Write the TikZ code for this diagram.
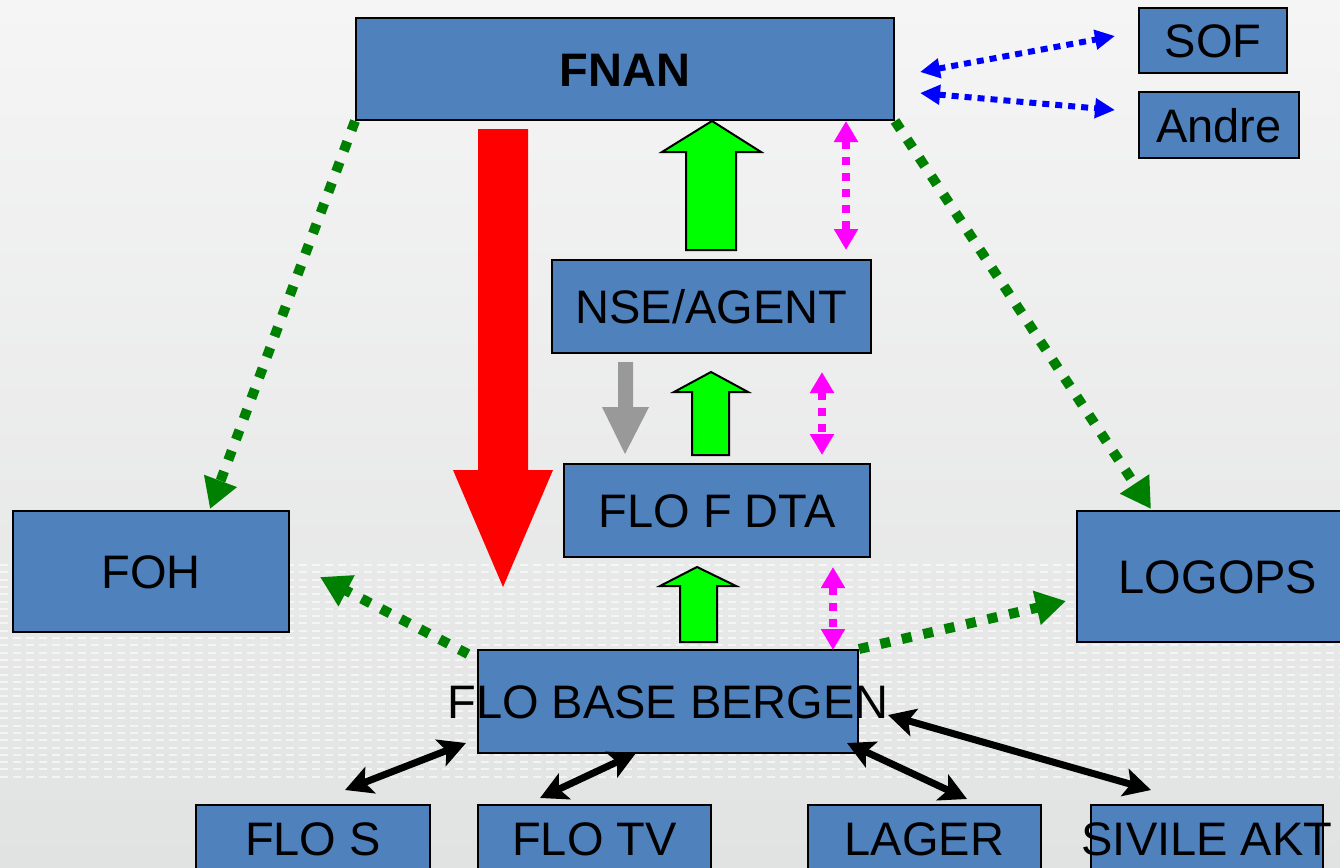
\documentclass[tikz,border=0pt]{standalone}
\usepackage{fontspec}
\setmainfont{Liberation Sans}
\usetikzlibrary{arrows.meta}
\definecolor{boxblue}{HTML}{4F81BD}
\definecolor{bgtop}{HTML}{F5F5F5}
\definecolor{bgbot}{HTML}{E1E2E2}
\definecolor{brightgreen}{HTML}{00FF00}
\definecolor{darkgreen}{HTML}{008000}
\definecolor{magentaline}{HTML}{FF00FF}
\definecolor{blueline}{HTML}{0000FF}
\definecolor{redarrow}{HTML}{FF0000}
\definecolor{grayarrow}{HTML}{999999}
\begin{document}
\begin{tikzpicture}[x=1pt,y=-1pt,
  box/.style={draw=black, line width=2pt, fill=boxblue, inner sep=0pt,
    font=\fontsize{47}{50}\selectfont, text height=34pt, text depth=0pt},
  blockup/.style={fill=brightgreen, draw=black, line width=2pt},
  magdot/.style={draw=magentaline, line width=8pt, dash pattern=on 8pt off 8pt,
    {Triangle[width=23pt,length=21pt]}-{Triangle[width=23pt,length=21pt]}},
  bluedot/.style={draw=blueline, line width=6pt, dash pattern=on 7pt off 6pt,
    {Triangle[width=19pt,length=20pt]}-{Triangle[width=19pt,length=20pt]}},
  greendot/.style={draw=darkgreen, line width=10pt, dash pattern=on 10pt off 12pt,
    -{Triangle[width=33pt,length=30pt]}},
  blackline/.style={draw=black, line width=7pt,
    {Stealth[width=28pt,length=27pt,inset=6pt]}-{Stealth[width=28pt,length=27pt,inset=6pt]}}
]
\useasboundingbox (0,0) rectangle (1340,867);
\clip (0,0) rectangle (1340,867);
% background
\shade[top color=bgtop, bottom color=bgbot] (0,0) rectangle (1340,867);
\foreach \yy in {0,...,29}
  \draw[white, opacity=0.6, line width=2pt, dash pattern=on 8pt off 5pt]
    (0,565+7.3*\yy) -- (1340,565+7.3*\yy);

% boxes
\node[box, minimum width=538pt, minimum height=102pt] (fnan) at (625,69) {\makebox[0pt]{\bfseries FNAN}};
\node[box, minimum width=148pt, minimum height=65pt] (sof) at (1213,40.5) {\makebox[0pt]{SOF}};
\node[box, minimum width=160pt, minimum height=66pt] (andre) at (1219,125) {\makebox[0pt]{Andre}};
\node[box, minimum width=319pt, minimum height=93pt] (nse) at (711.5,306.5) {\makebox[0pt]{NSE/AGENT}};
\node[box, minimum width=306pt, minimum height=93pt] (dta) at (717,510.5) {\makebox[0pt]{FLO F DTA}};
\node[box, minimum width=276pt, minimum height=121pt] (foh) at (151,571.5) {\makebox[0pt]{FOH}};
\node[box, minimum width=282pt, minimum height=131pt] (logops) at (1218,576.5) {\makebox[0pt]{LOGOPS}};
\node[box, minimum width=380pt, minimum height=103pt] (base) at (668,701.5) {\makebox[0pt]{FLO BASE BERGEN}};
\node[box, minimum width=234pt, minimum height=66pt] (flos) at (313,838) {\makebox[0pt]{FLO S}};
\node[box, minimum width=233pt, minimum height=66pt] (flotv) at (594.5,838) {\makebox[0pt]{FLO TV}};
\node[box, minimum width=233pt, minimum height=66pt] (lager) at (924.5,838) {\makebox[0pt]{LAGER}};
\node[box, minimum width=232pt, minimum height=66pt] (sivile) at (1207,838) {\makebox[0pt]{SIVILE AKT}};

% block arrows
\fill[redarrow] (478,129) -- (528,129) -- (528,470) -- (553,470) -- (503,587) -- (453,470) -- (478,470) -- cycle;
\fill[grayarrow] (618,362) -- (633,362) -- (633,407) -- (649,407) -- (625,454) -- (602,407) -- (618,407) -- cycle;
\filldraw[blockup] (686,250) -- (686,152) -- (662,152) -- (712,121) -- (761,152) -- (736,152) -- (736,250) -- cycle;
\filldraw[blockup] (692,455) -- (692,392) -- (674,392) -- (711,372) -- (748,392) -- (729,392) -- (729,455) -- cycle;
\filldraw[blockup] (680,642) -- (680,586) -- (660,586) -- (697,567) -- (736,586) -- (717,586) -- (717,642) -- cycle;

% connector end points
\coordinate (b1a) at (920,72);
\coordinate (b1b) at (1115,36);
\coordinate (b2a) at (920,93);
\coordinate (b2b) at (1115,110);
\coordinate (m1a) at (846,121);
\coordinate (m1b) at (846,250);
\coordinate (m2a) at (822,372);
\coordinate (m2b) at (822,455);
\coordinate (m3a) at (833,567);
\coordinate (m3b) at (833,650);
\coordinate (g1) at (210,509);
\coordinate (g2) at (1151,509);
\coordinate (g3s) at (468,654);
\coordinate (g3) at (320,577);
\coordinate (g4) at (1066,601);
\coordinate (k1a) at (345,790);
\coordinate (k1b) at (466,743);
\coordinate (k2a) at (540,798);
\coordinate (k2b) at (636,753);
\coordinate (k3a) at (847,743);
\coordinate (k3b) at (967,799);
\coordinate (k4a) at (888,715);
\coordinate (k4b) at (1151,790);

% dotted connectors
\draw[bluedot] (b1a) -- (b1b);
\draw[bluedot] (b2a) -- (b2b);
\draw[magdot] (m1a) -- (m1b);
\draw[magdot] (m2a) -- (m2b);
\draw[magdot] (m3a) -- (m3b);
\draw[greendot] (fnan.south west) -- (g1);
\draw[greendot] (fnan.south east) -- (g2);
\draw[greendot] (g3s) -- (g3);
\draw[greendot] (base.north east) -- (g4);

% black connectors
\draw[blackline] (k1a) -- (k1b);
\draw[blackline] (k2a) -- (k2b);
\draw[blackline] (k3a) -- (k3b);
\draw[blackline] (k4a) -- (k4b);
\end{tikzpicture}
\end{document}
